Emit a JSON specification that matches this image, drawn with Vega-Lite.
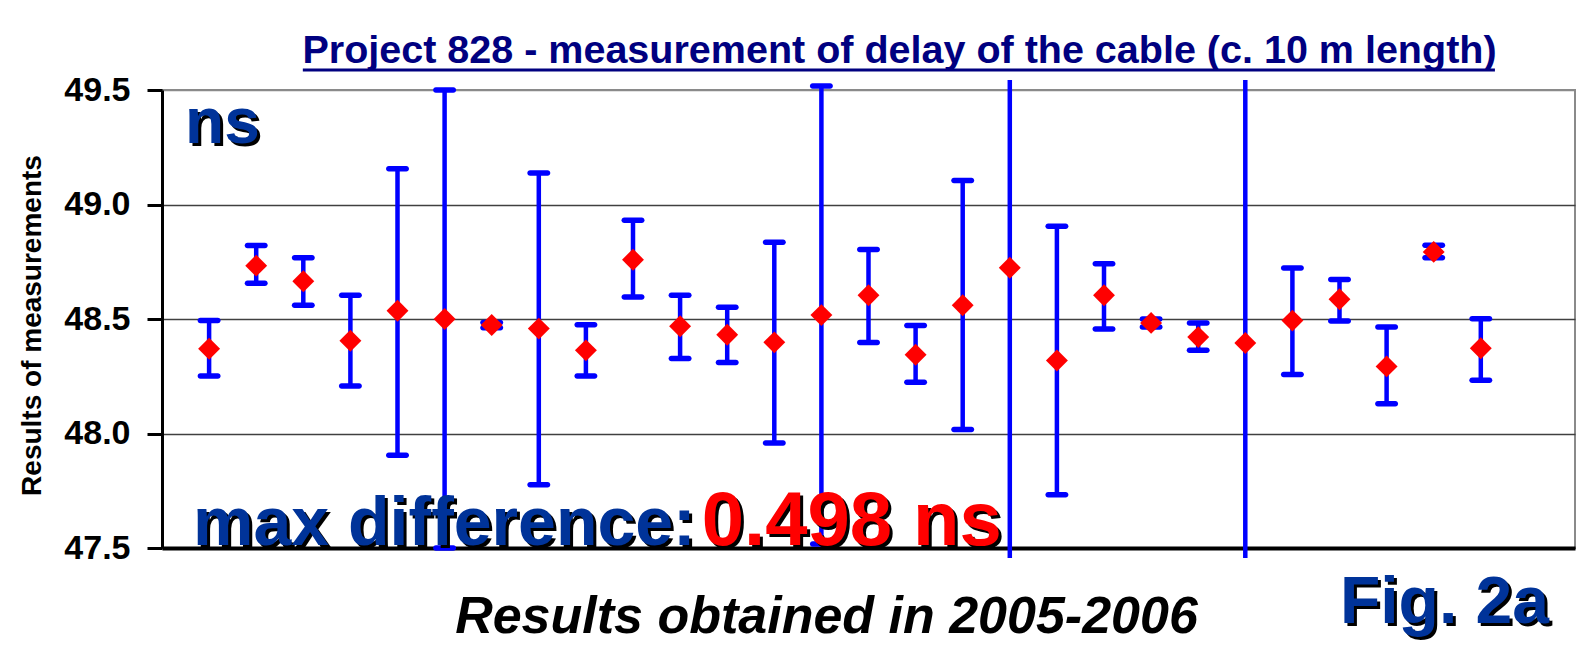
{
  "$schema": "https://vega.github.io/schema/vega-lite/v6.json",
  "width": 1413,
  "height": 458,
  "autosize": {"type": "none"},
  "padding": {"left": 162, "top": 90, "right": 4, "bottom": 100},
  "background": "white",
  "config": {"view": {"stroke": "#8a8a8a", "strokeWidth": 2}},
  "title": {
    "text": "Project 828 - measurement of delay of the cable (c. 10 m length)",
    "frame": "group", "anchor": "middle", "dx": 31, "offset": -34, "baseline": "alphabetic",
    "font": "Liberation Sans", "fontSize": 39.5, "fontWeight": "bold", "color": "#000080"
  },
  "datasets": {
    "meas": [
      {"i": 1, "v": 48.370, "lo": 48.251, "hi": 48.493},
      {"i": 2, "v": 48.733, "lo": 48.656, "hi": 48.821},
      {"i": 3, "v": 48.665, "lo": 48.560, "hi": 48.768},
      {"i": 4, "v": 48.405, "lo": 48.207, "hi": 48.604},
      {"i": 5, "v": 48.536, "lo": 47.905, "hi": 49.156},
      {"i": 6, "v": 48.500, "lo": 47.500, "hi": 49.500},
      {"i": 7, "v": 48.474, "lo": 48.462, "hi": 48.485},
      {"i": 8, "v": 48.458, "lo": 47.776, "hi": 49.138},
      {"i": 9, "v": 48.363, "lo": 48.251, "hi": 48.475},
      {"i": 10, "v": 48.759, "lo": 48.596, "hi": 48.931},
      {"i": 11, "v": 48.468, "lo": 48.328, "hi": 48.604},
      {"i": 12, "v": 48.431, "lo": 48.310, "hi": 48.551},
      {"i": 13, "v": 48.398, "lo": 47.958, "hi": 48.835},
      {"i": 14, "v": 48.517, "lo": 47.517, "hi": 49.517},
      {"i": 15, "v": 48.604, "lo": 48.397, "hi": 48.803},
      {"i": 16, "v": 48.344, "lo": 48.224, "hi": 48.472},
      {"i": 17, "v": 48.560, "lo": 48.018, "hi": 49.105},
      {"i": 18, "v": 48.724, "lo": 47.456, "hi": 49.544},
      {"i": 19, "v": 48.319, "lo": 47.732, "hi": 48.905},
      {"i": 20, "v": 48.604, "lo": 48.456, "hi": 48.741},
      {"i": 21, "v": 48.483, "lo": 48.465, "hi": 48.500},
      {"i": 22, "v": 48.421, "lo": 48.363, "hi": 48.483},
      {"i": 23, "v": 48.395, "lo": 47.456, "hi": 49.544},
      {"i": 24, "v": 48.493, "lo": 48.258, "hi": 48.723},
      {"i": 25, "v": 48.586, "lo": 48.491, "hi": 48.672},
      {"i": 26, "v": 48.293, "lo": 48.130, "hi": 48.465},
      {"i": 27, "v": 48.793, "lo": 48.767, "hi": 48.822},
      {"i": 28, "v": 48.372, "lo": 48.233, "hi": 48.501}
    ],
    "one": [{}]
  },
  "layer": [
    {
      "data": {"name": "meas"},
      "mark": {"type": "rule", "color": "#0000ff", "strokeWidth": 4.5},
      "encoding": {
        "x": {"field": "i", "type": "quantitative",
          "scale": {"domain": [0, 30], "nice": false, "zero": false},
          "axis": {"title": "Results obtained in 2005-2006", "labels": false, "ticks": false, "grid": false,
            "domainColor": "black", "domainWidth": 4,
            "titleFont": "Liberation Sans", "titleFontSize": 52, "titleFontStyle": "italic", "titleFontWeight": "bold",
            "titleColor": "black", "titleX": 664, "titleY": 84, "titleAlign": "center", "titleBaseline": "alphabetic"}},
        "y": {"field": "lo", "type": "quantitative",
          "scale": {"domain": [47.5, 49.5], "nice": false, "zero": false},
          "axis": {"title": "Results of measurements", "values": [47.5, 48, 48.5, 49, 49.5], "format": ".1f",
            "labelFont": "Liberation Sans", "labelFontSize": 34, "labelFontWeight": "bold", "labelColor": "black",
            "labelPadding": 17, "tickSize": 15, "tickWidth": 3, "tickColor": "black",
            "domainColor": "black", "domainWidth": 3,
            "grid": true, "gridColor": {"condition": {"test": "datum.value == 49.5", "value": "#8a8a8a"}, "value": "#404040"}, "gridWidth": 1.3,
            "titleFont": "Liberation Sans", "titleFontSize": 28, "titleFontWeight": "bold", "titleColor": "black",
            "titleX": -130, "titleY": 235, "titleAngle": -90, "titleAlign": "center", "titleBaseline": "middle"}},
        "y2": {"field": "hi"}
      }
    },
    {
      "data": {"name": "meas"},
      "transform": [{"filter": "datum.i != 18 && datum.i != 23"}],
      "mark": {"type": "tick", "orient": "horizontal", "color": "#0000ff", "size": 23, "thickness": 5.5, "cornerRadius": 2.75, "opacity": 1},
      "encoding": {
        "x": {"field": "i", "type": "quantitative"},
        "y": {"field": "lo", "type": "quantitative"}
      }
    },
    {
      "data": {"name": "meas"},
      "transform": [{"filter": "datum.i != 18 && datum.i != 23"}],
      "mark": {"type": "tick", "orient": "horizontal", "color": "#0000ff", "size": 23, "thickness": 5.5, "cornerRadius": 2.75, "opacity": 1},
      "encoding": {
        "x": {"field": "i", "type": "quantitative"},
        "y": {"field": "hi", "type": "quantitative"}
      }
    },
    {
      "data": {"name": "meas"},
      "mark": {"type": "point", "shape": "diamond", "filled": true, "color": "#ff0000", "size": 480, "opacity": 1},
      "encoding": {
        "x": {"field": "i", "type": "quantitative"},
        "y": {"field": "v", "type": "quantitative"}
      }
    },
    {
      "data": {"name": "one"},
      "mark": {"type": "text", "align": "left", "baseline": "alphabetic", "font": "Liberation Sans", "fontWeight": "bold", "fontSize": 64, "color": "black", "dx": 3, "dy": 3},
      "encoding": {"x": {"datum": 0.49, "type": "quantitative"}, "y": {"datum": 49.269, "type": "quantitative"}, "text": {"value": "ns"}}
    },
    {
      "data": {"name": "one"},
      "mark": {"type": "text", "align": "left", "baseline": "alphabetic", "font": "Liberation Sans", "fontWeight": "bold", "fontSize": 64, "color": "#003399"},
      "encoding": {"x": {"datum": 0.49, "type": "quantitative"}, "y": {"datum": 49.269, "type": "quantitative"}, "text": {"value": "ns"}}
    },
    {
      "data": {"name": "one"},
      "mark": {"type": "text", "align": "left", "baseline": "alphabetic", "font": "Liberation Sans", "fontWeight": "bold", "fontSize": 68, "color": "black", "dx": 3, "dy": 3},
      "encoding": {"x": {"datum": 0.66, "type": "quantitative"}, "y": {"datum": 47.513, "type": "quantitative"}, "text": {"value": "max difference:"}}
    },
    {
      "data": {"name": "one"},
      "mark": {"type": "text", "align": "left", "baseline": "alphabetic", "font": "Liberation Sans", "fontWeight": "bold", "fontSize": 68, "color": "#003399"},
      "encoding": {"x": {"datum": 0.66, "type": "quantitative"}, "y": {"datum": 47.513, "type": "quantitative"}, "text": {"value": "max difference:"}}
    },
    {
      "data": {"name": "one"},
      "mark": {"type": "text", "align": "left", "baseline": "alphabetic", "font": "Liberation Sans", "fontWeight": "bold", "fontSize": 76, "color": "black", "dx": 3, "dy": 3},
      "encoding": {"x": {"datum": 11.46, "type": "quantitative"}, "y": {"datum": 47.513, "type": "quantitative"}, "text": {"value": "0.498 ns"}}
    },
    {
      "data": {"name": "one"},
      "mark": {"type": "text", "align": "left", "baseline": "alphabetic", "font": "Liberation Sans", "fontWeight": "bold", "fontSize": 76, "color": "#ff0000"},
      "encoding": {"x": {"datum": 11.46, "type": "quantitative"}, "y": {"datum": 47.513, "type": "quantitative"}, "text": {"value": "0.498 ns"}}
    },
    {
      "data": {"name": "one"},
      "mark": {"type": "text", "align": "left", "baseline": "alphabetic", "font": "Liberation Sans", "fontWeight": "bold", "fontSize": 66, "color": "black", "dx": 3, "dy": 3},
      "encoding": {"x": {"datum": 25.01, "type": "quantitative"}, "y": {"datum": 47.172, "type": "quantitative"}, "text": {"value": "Fig. 2a"}}
    },
    {
      "data": {"name": "one"},
      "mark": {"type": "text", "align": "left", "baseline": "alphabetic", "font": "Liberation Sans", "fontWeight": "bold", "fontSize": 66, "color": "#003399"},
      "encoding": {"x": {"datum": 25.01, "type": "quantitative"}, "y": {"datum": 47.172, "type": "quantitative"}, "text": {"value": "Fig. 2a"}}
    },
    {
      "data": {"name": "one"},
      "mark": {"type": "rule", "color": "#000080", "strokeWidth": 3},
      "encoding": {"x": {"datum": 2.99, "type": "quantitative"}, "x2": {"datum": 28.30}, "y": {"datum": 49.587, "type": "quantitative"}}
    }
  ]
}
